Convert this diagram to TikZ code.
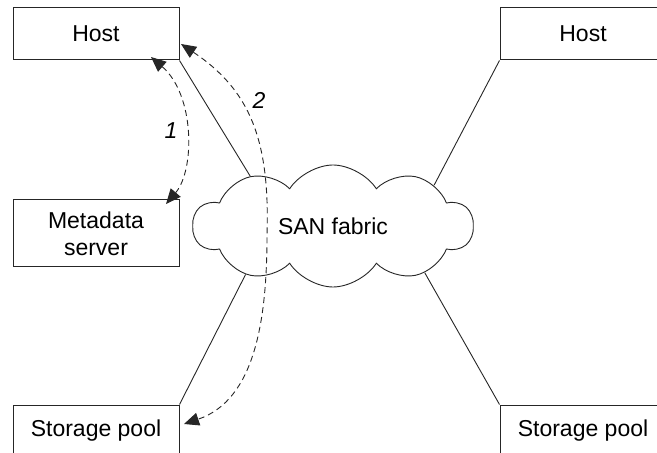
\documentclass[tikz,border=0pt]{standalone}
\usepackage{fontspec}
\setmainfont{Liberation Sans}
\usetikzlibrary{shapes.symbols,arrows.meta}
\begin{document}
\begin{tikzpicture}[x=0.5pt, y=0.5pt,
  font=\fontsize{11.5}{13.5}\selectfont,
  box/.style={draw=black!85, line width=0.5pt, minimum width=83pt, minimum height=26pt, inner sep=0pt, align=center},
  link/.style={draw=black!85, line width=0.45pt},
  flow/.style={black!85, line width=0.45pt, dash pattern=on 3pt off 2pt, {Triangle[length=7.5pt,width=6.5pt]}-{Triangle[length=7.5pt,width=6.5pt]}}]
\useasboundingbox (0,0) rectangle (657,-453);
\node[box] (hostL) at (96,-34){Host};
\node[box] (hostR) at (583,-34){Host};
\node[box, minimum height=33.5pt] (meta) at (96,-233.5){Metadata\\server};
\node[box] (poolL) at (96,-431){Storage pool};
\node[box] (poolR) at (583,-431){Storage pool};
\node[cloud, draw=black!85, line width=0.45pt, fill=white, cloud puffs=10, cloud puff arc=115, aspect=2.3, minimum width=140pt, minimum height=61pt] (fabric) at (333,-226){};
\node (san) at (333,-226){SAN fabric};
\draw[link](hostL.south east) -- (fabric.149);
\draw[link](hostR.south west) -- (fabric.22);
\draw[link](poolL.north east) -- (fabric.-151);
\draw[link](poolR.north west) -- (fabric.-27);
% request to the metadata server
\coordinate (m1) at (151,-57);
\coordinate (m2) at (166,-204);
\draw[flow](m1) .. controls (195,-95) and (195,-170) .. (m2);
\node[font=\fontsize{11.5}{13.5}\selectfont\itshape] (lab1) at (171,-131){1};
% data path
\coordinate (d1) at (181,-44);
\coordinate (d2) at (267,-235);
\coordinate (d3) at (184,-424);
\draw[flow](d1) .. controls (250,-90) and (270,-140) .. (d2) .. controls (267,-320) and (255,-400) .. (d3);
\node[font=\fontsize{11.5}{13.5}\selectfont\itshape] (lab2) at (259,-100){2};
\end{tikzpicture}
\end{document}
